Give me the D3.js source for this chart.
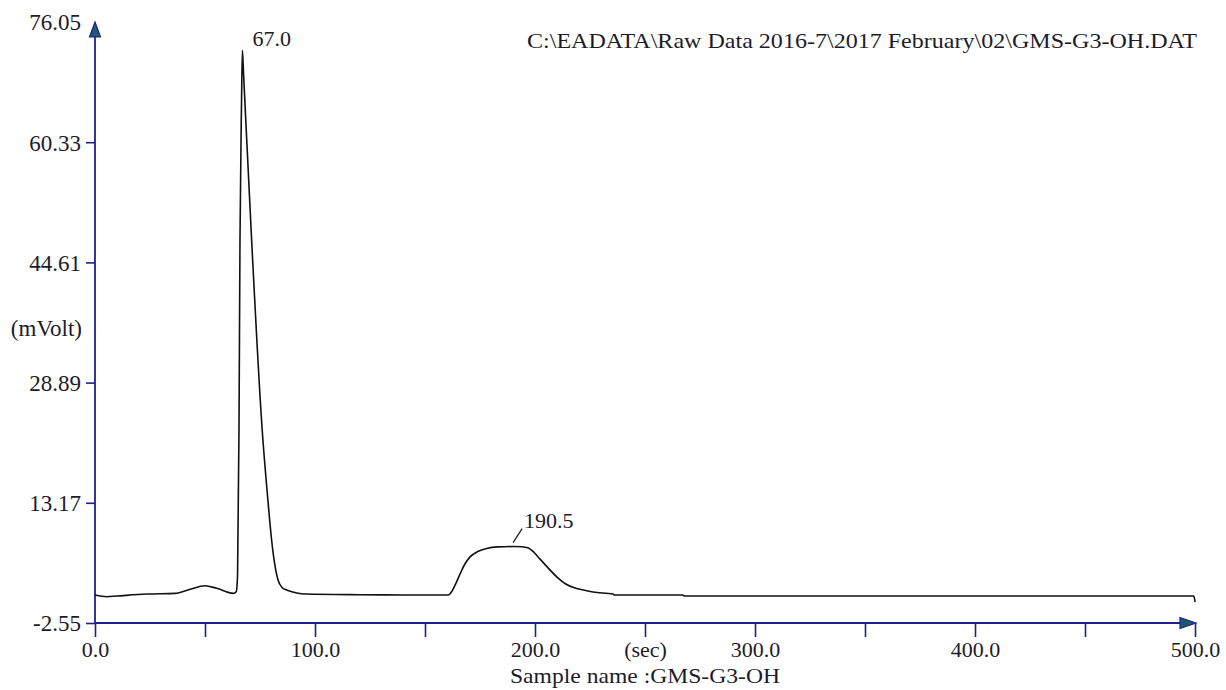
<!DOCTYPE html>
<html>
<head>
<meta charset="utf-8">
<script src="https://cdn.jsdelivr.net/npm/d3@7"></script>
<style>
  html, body { margin: 0; padding: 0; background: #fff; }
  svg { display: block; }
  text { font-family: "Liberation Serif", "Times New Roman", serif; fill: #1c1c28; }
</style>
</head>
<body>
<svg id="chart" width="1226" height="690"></svg>
<script>
// Chromatogram trace: retention time (sec) and detector signal (mVolt)
const timeSec = [0, 5.3, 9.9, 23.5, 36.4, 43.2, 50, 55.3, 62.9, 64.2, 64.8, 65.45, 65.9, 66.6, 67.0,
  67.5, 71.2, 76.0, 78.6, 80.2, 81.5, 83.2, 85.0, 87.1, 91.7, 95.5, 120, 140, 160.5, 162, 164, 166,
  168, 170.5, 174, 178, 183, 190.5, 194, 197, 199.5, 202.3, 205, 210, 214, 218.2, 222, 226.4,
  235.5, 236, 267, 268, 350, 420, 499.5, 500];
const signal = [1.11, 0.89, 0.98, 1.24, 1.33, 1.86, 2.33, 1.99, 1.33, 1.54, 3.7, 22.7, 47.5, 65.5, 72.35,
  69.4, 47.5, 22.7, 13.5, 8.5, 5.5, 3.07, 2.1, 1.76, 1.37, 1.24, 1.15, 1.12, 1.11, 1.5, 2.6, 3.9,
  5.1, 6.1, 6.8, 7.2, 7.4, 7.45, 7.42, 7.25, 6.7, 5.8, 4.95, 3.46, 2.55, 2.02, 1.76, 1.5,
  1.24, 1.11, 1.11, 0.98, 0.98, 0.98, 0.98, 0.2];

// Axis ticks
const yTicks = [-2.55, 13.17, 28.89, 44.61, 60.33, 76.05];
const xTicks = [0, 50, 100, 150, 200, 250, 300, 350, 400, 450, 500];
const xLabelled = [0, 100, 200, 300, 400, 500];

// Peak annotations
const peakTimes = [67.0, 190.5];

const filePath = "C:\\EADATA\\Raw Data 2016-7\\2017 February\\02\\GMS-G3-OH.DAT";
const sampleName = "Sample name :GMS-G3-OH";

const svg = d3.select("#chart");
const axisColor = "#1f1f8f";
const fontFamily = "'Liberation Serif', 'Times New Roman', serif";

const x = d3.scaleLinear().domain([0, 500]).range([95, 1195]);
const y = d3.scaleLinear().domain([-2.55, 76.05]).range([623, 22]);

// Y axis (plain hyphen for negative values)
const yAxis = svg.append("g")
  .attr("transform", `translate(${x(0)},0)`)
  .call(d3.axisLeft(y).tickValues(yTicks).tickFormat(d => d.toFixed(2))
    .tickSize(9).tickSizeOuter(0).tickPadding(5));
yAxis.select(".domain").remove();
yAxis.selectAll(".tick line").attr("stroke", axisColor).attr("stroke-width", 1.6)
  .filter(d => d === 76.05).remove();
yAxis.selectAll(".tick text").attr("font-size", 23).attr("dy", "0.34em")
  .style("font-family", fontFamily).attr("fill", "#1c1c28");

// X axis
const xAxis = svg.append("g")
  .attr("transform", `translate(0,${y(-2.55)})`)
  .call(d3.axisBottom(x).tickValues(xTicks)
    .tickFormat(d => xLabelled.includes(d) ? d.toFixed(1) : (d === 250 ? "(sec)" : ""))
    .tickSize(14).tickSizeOuter(0));
xAxis.select(".domain").remove();
xAxis.selectAll(".tick line").attr("stroke", axisColor).attr("stroke-width", 1.6);
xAxis.selectAll(".tick text").attr("font-size", 22).attr("y", 34).attr("dy", null)
  .style("font-family", fontFamily).attr("fill", "#1c1c28");

// Axis lines with arrow heads
svg.append("line").attr("x1", x(0)).attr("x2", x(0)).attr("y1", y(-2.55)).attr("y2", y(76.05) + 10)
  .attr("stroke", axisColor).attr("stroke-width", 1.8);
svg.append("line").attr("x1", x(0)).attr("x2", x(500) - 10).attr("y1", y(-2.55)).attr("y2", y(-2.55))
  .attr("stroke", axisColor).attr("stroke-width", 1.8);
svg.append("path")
  .attr("d", `M${x(0)},${y(76.05)} L${x(0) + 5.5},${y(76.05) + 15} L${x(0) - 5.5},${y(76.05) + 15} Z`)
  .attr("fill", "#1d5a6c").attr("stroke", axisColor).attr("stroke-width", 1.2);
svg.append("path")
  .attr("d", `M${x(500) + 1},${y(-2.55)} L${x(500) - 15},${y(-2.55) - 5.5} L${x(500) - 15},${y(-2.55) + 5.5} Z`)
  .attr("fill", "#1d5a6c").attr("stroke", axisColor).attr("stroke-width", 1.2);

// Signal trace
const pts = timeSec.map((t, i) => [t, signal[i]]);
svg.append("path")
  .datum(pts)
  .attr("fill", "none")
  .attr("stroke", "#111")
  .attr("stroke-width", 1.6)
  .attr("stroke-linejoin", "round")
  .attr("d", d3.line().x(d => x(d[0])).y(d => y(d[1])).curve(d3.curveMonotoneX));

// Peak labels
const valueAt = t => signal[timeSec.indexOf(t)];
svg.append("text").attr("x", x(peakTimes[0]) + 10).attr("y", y(valueAt(peakTimes[0])) - 4)
  .attr("font-size", 22).text(peakTimes[0].toFixed(1));
const p2x = x(peakTimes[1]), p2y = y(valueAt(peakTimes[1]));
svg.append("line").attr("x1", p2x - 1).attr("y1", p2y - 4).attr("x2", p2x + 8).attr("y2", p2y - 18)
  .attr("stroke", "#222").attr("stroke-width", 1.3);
svg.append("text").attr("x", p2x + 10).attr("y", p2y - 19)
  .attr("font-size", 22).text(peakTimes[1].toFixed(1));

// Unit label, file path and sample name
svg.append("text").attr("x", 82).attr("y", 336).attr("text-anchor", "end")
  .attr("font-size", 23).text("(mVolt)");
svg.append("text").attr("x", 527).attr("y", 48)
  .attr("font-size", 22).attr("textLength", 670).attr("lengthAdjust", "spacingAndGlyphs")
  .text(filePath);
svg.append("text").attr("x", 510).attr("y", 683)
  .attr("font-size", 22).attr("textLength", 270).attr("lengthAdjust", "spacingAndGlyphs")
  .text(sampleName);
</script>
</body>
</html>
